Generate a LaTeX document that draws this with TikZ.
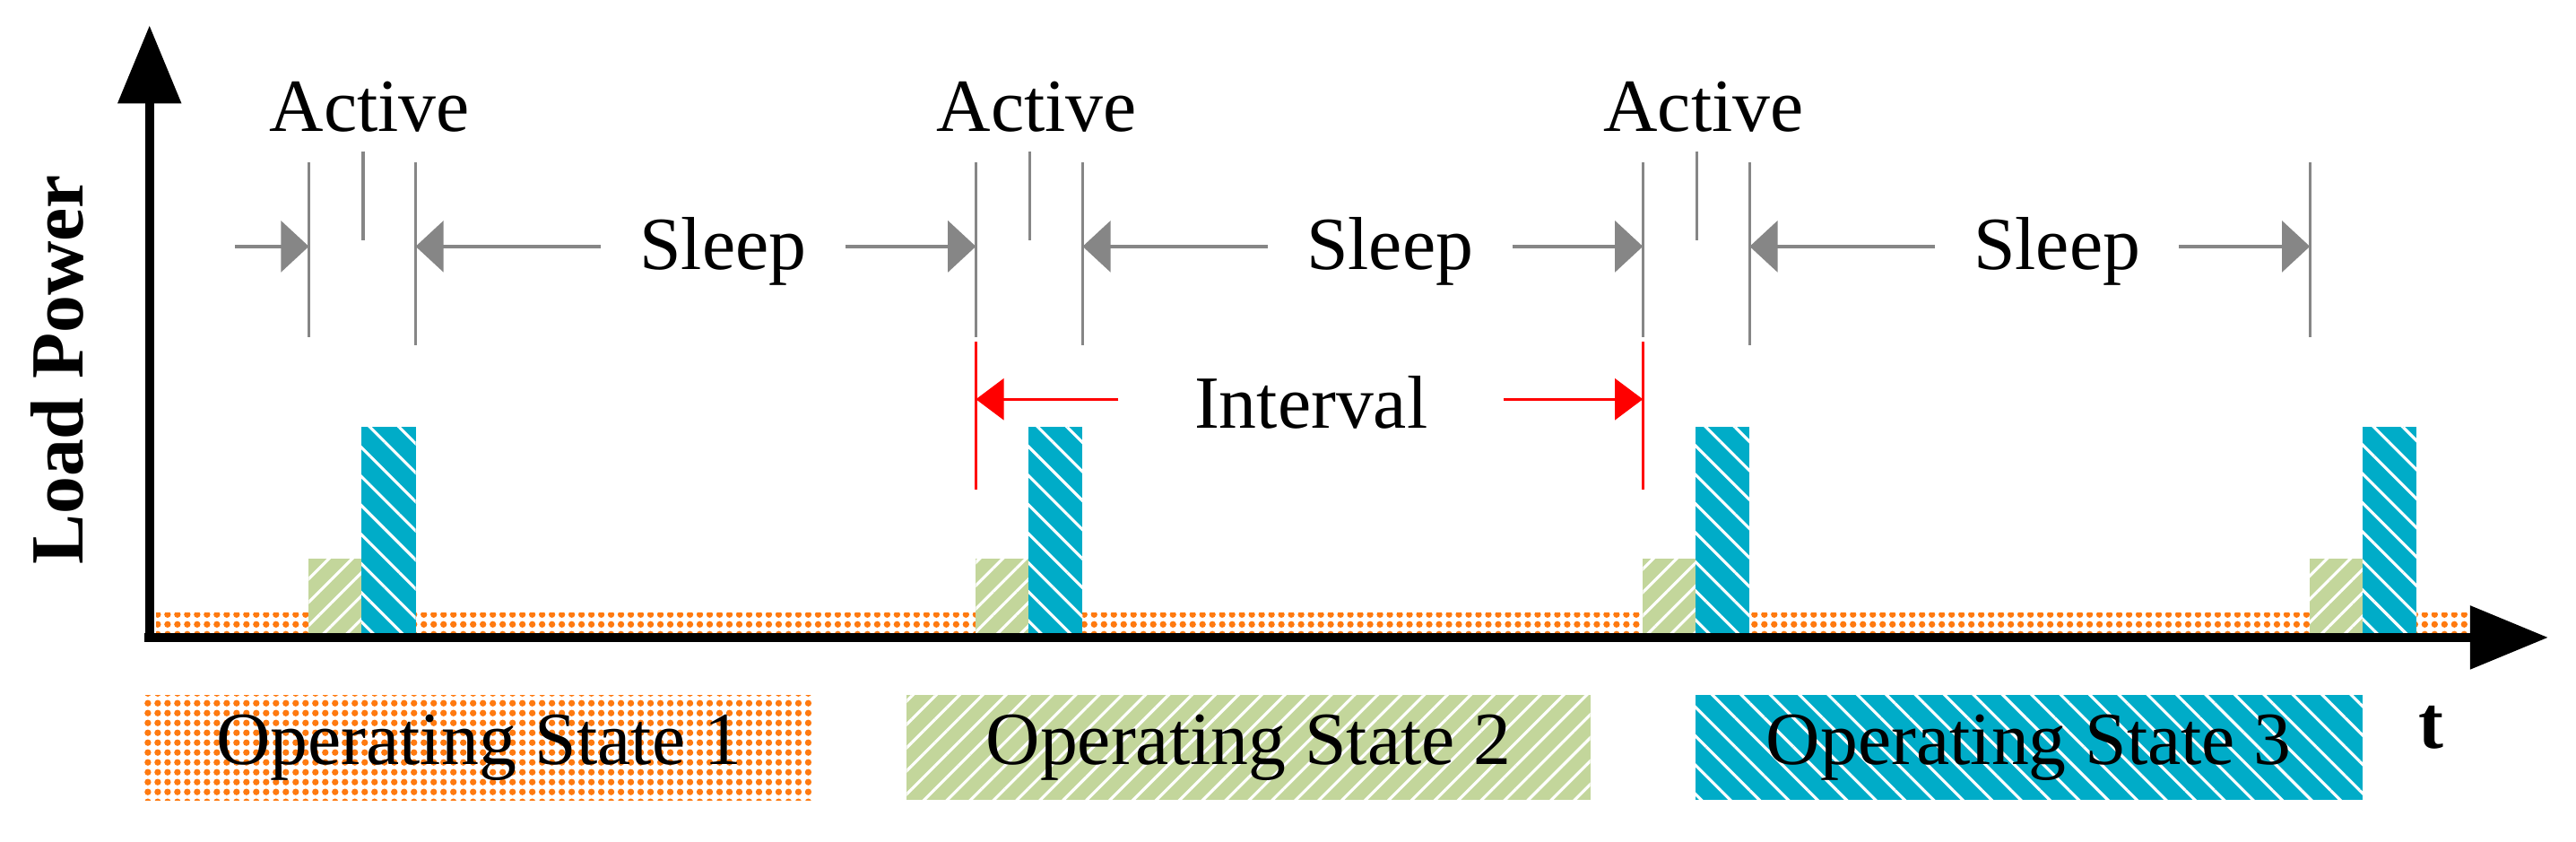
\documentclass[tikz,border=0pt]{standalone}
\usepackage{fontspec}
\setmainfont{Liberation Serif}
\usetikzlibrary{arrows.meta,patterns.meta}
\definecolor{stOrange}{HTML}{FF7A10}
\definecolor{stGreen}{HTML}{C3D69B}
\definecolor{stBlue}{HTML}{00ACC8}
\begin{document}
\begin{tikzpicture}[
	every node/.style={font=\fontsize{26}{30}\selectfont},
	axis/.style={line width=0.11cm,-{Triangle[length=0.95cm,width=0.75cm]}},
	guide/.style={draw=gray!95,line width=0.035cm},
	span/.style={draw=gray!95,line width=0.045cm,-{Triangle[length=0.34cm,width=0.62cm]}},
	gap/.style={draw=red,line width=0.035cm,-{Triangle[length=0.34cm,width=0.5cm]}},
	state1/.style={pattern={Dots[distance=0.12cm,radius=0.04cm]},pattern color=stOrange},
	state2/.style={fill=stGreen,postaction={pattern={Lines[angle=45,distance=0.2cm,line width=0.035cm]},pattern color=white}},
	state3/.style={fill=stBlue,postaction={pattern={Lines[angle=-45,distance=0.25cm,line width=0.035cm]},pattern color=white}}]
	\useasboundingbox (-1.82,-2.48) rectangle (29.54,7.76);
	% base load
	\fill[state1] (0.08,0) rectangle (28.38,0.3);
	\foreach \X in {0,1,2,3}
	{\fill[state2] ({1.94+8.12*\X},0) rectangle ({2.58+8.12*\X},0.96);
		\fill[state3] ({2.58+8.12*\X},0) rectangle ({3.24+8.12*\X},2.56);
		\coordinate (a\X) at ({1.94+8.12*\X},4.76);
		\draw[guide] ({1.94+8.12*\X},5.78) -- ({1.94+8.12*\X},3.66);
		\ifnum\X<3
		\coordinate (b\X) at ({3.24+8.12*\X},4.76);
		\draw[guide] ({3.24+8.12*\X},5.78) -- ({3.24+8.12*\X},3.56);
		\draw[guide] ({2.6+8.12*\X},5.92) -- ({2.6+8.12*\X},4.84);
		\node (act\X) at ({2.68+8.12*\X},6.46) {Active};
		\node (slp\X) at ({6.98+8.12*\X},4.7) {Sleep};
		\fi}
	\coordinate (a4) at (1.04,4.76);
	\draw[span] (a4) -- (a0);
	\foreach \X/\Y in {0/1,1/2,2/3}
	{\draw[span] (slp\X.west) ++(-0.35,0.06) -- (b\X);
		\draw[span] (slp\X.east) ++(0.35,0.06) -- (a\Y);}
	% interval
	\draw[red,line width=0.035cm] (10.06,3.6) -- (10.06,1.8) (18.18,3.6) -- (18.18,1.8);
	\node (int) at (14.14,2.86) {Interval};
	\coordinate (i1) at (10.06,2.9);
	\coordinate (i2) at (18.18,2.9);
	\draw[gap] (int.west) ++(-0.8,0.04) -- (i1);
	\draw[gap] (int.east) ++(0.8,0.04) -- (i2);
	% axes
	\coordinate (o) at (-0.06,0);
	\draw[axis] (0,-0.05) -- (0,7.45);
	\draw[axis] (o) -- (29.2,0);
	\node[rotate=90,font=\fontsize{26}{30}\selectfont\bfseries] (lp) at (-1.12,3.26) {Load Power};
	\node[font=\fontsize{26}{30}\selectfont\bfseries] (t) at (27.78,-1.1) {t};
	% legend
	\fill[state1] (-0.06,-0.7) rectangle (8.08,-1.98);
	\fill[state2] (9.22,-0.7) rectangle (17.54,-1.98);
	\fill[state3] (18.82,-0.7) rectangle (26.94,-1.98);
	\node (s1) at (4.01,-1.34) {Operating State 1};
	\node (s2) at (13.38,-1.34) {Operating State 2};
	\node (s3) at (22.88,-1.34) {Operating State 3};
\end{tikzpicture}
\end{document}
